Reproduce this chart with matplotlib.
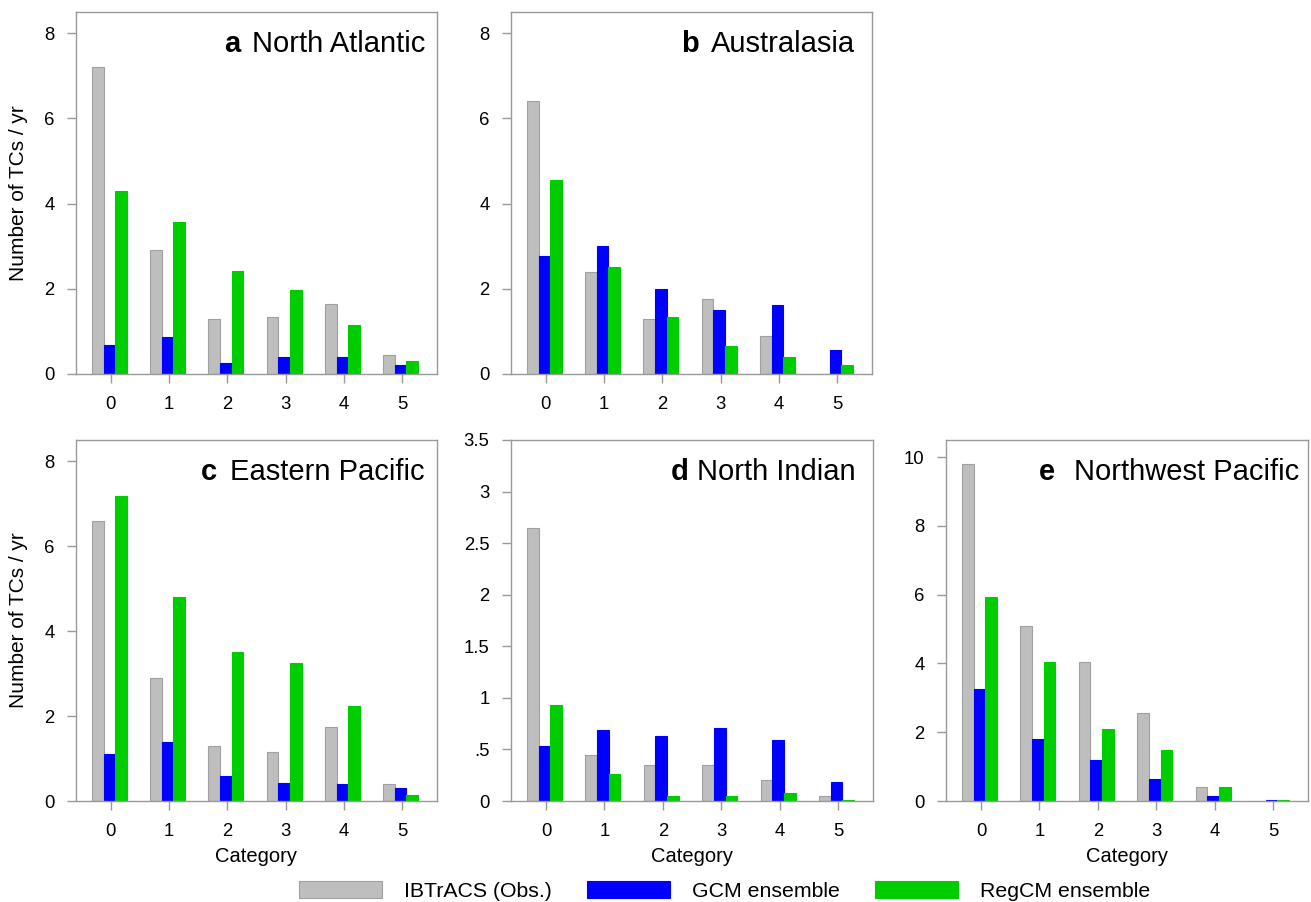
import numpy as np
import matplotlib
matplotlib.use("Agg")
import matplotlib.pyplot as plt
from matplotlib.ticker import FuncFormatter

plt.rcParams['font.family'] = ['Liberation Sans', 'DejaVu Sans']

# data (number of TCs per year by category)
categories = [0, 1, 2, 3, 4, 5]
series_names = ["IBTrACS (Obs.)", "GCM ensemble", "RegCM ensemble"]

region_letters = ["a", "b", "c", "d", "e"]
region_names = ["North Atlantic", "Australasia", "Eastern Pacific", "North Indian", "Northwest Pacific"]

obs_na = [7.2, 2.9, 1.3, 1.35, 1.65, 0.45]
gcm_na = [0.67, 0.87, 0.26, 0.41, 0.41, 0.2]
reg_na = [4.3, 3.57, 2.43, 1.98, 1.15, 0.31]

obs_au = [6.4, 2.4, 1.3, 1.75, 0.9, 0.0]
gcm_au = [2.78, 3.01, 2.0, 1.51, 1.62, 0.56]
reg_au = [4.55, 2.51, 1.33, 0.66, 0.39, 0.22]

obs_ep = [6.6, 2.9, 1.3, 1.15, 1.75, 0.39]
gcm_ep = [1.11, 1.4, 0.59, 0.42, 0.39, 0.31]
reg_ep = [7.17, 4.8, 3.51, 3.26, 2.24, 0.14]

obs_ni = [2.65, 0.45, 0.35, 0.35, 0.2, 0.05]
gcm_ni = [0.53, 0.69, 0.63, 0.71, 0.59, 0.18]
reg_ni = [0.93, 0.26, 0.045, 0.045, 0.08, 0.013]

obs_wp = [9.8, 5.1, 4.05, 2.55, 0.4, 0.0]
gcm_wp = [3.25, 1.79, 1.2, 0.65, 0.15, 0.02]
reg_wp = [5.93, 4.05, 2.09, 1.49, 0.4, 0.02]

region_data = [(obs_na, gcm_na, reg_na), (obs_au, gcm_au, reg_au), (obs_ep, gcm_ep, reg_ep),
               (obs_ni, gcm_ni, reg_ni), (obs_wp, gcm_wp, reg_wp)]

ymax = [8.5, 8.5, 8.5, 3.5, 10.5]
yticks = [np.arange(0, 9, 2), np.arange(0, 9, 2), np.arange(0, 9, 2),
          np.arange(0, 3.6, 0.5), np.arange(0, 11, 2)]

fills = ["#bebebe", "#0000ff", "#00cd00"]
edges = ["#a0a0a0", "#0000ff", "#00cd00"]
axis_col = "#999999"

W, H = 1311, 902
fig = plt.figure(figsize=(W / 100, H / 100), dpi=100)

# axes boxes in pixels: left, top, right, bottom
boxes = [(76, 12, 437, 374), (511, 12, 872, 374),
         (76, 440, 437, 801), (511, 440, 873, 801), (946, 440, 1308, 801)]
# right edge of the region name, and gap before the bold letter (pixels)
title_right = [425, 855, 425, 856, 1299]
title_gap = [11, 12, 13, 9, 19]

offsets = [-0.226, -0.026, 0.174]
bw = 0.2
x = np.array(categories)


def fmt_half(v, pos):
    if v == 0:
        return "0"
    s = ("%g" % v)
    if s.startswith("0."):
        s = s[1:]
    return s


handles = None
for i in range(5):
    l, t, r, b = boxes[i]
    ax = fig.add_axes([l / W, 1 - b / H, (r - l) / W, (b - t) / H])
    bars = []
    for k in range(3):
        bc = ax.bar(x + offsets[k], region_data[i][k], width=bw, color=fills[k],
                    edgecolor=edges[k], linewidth=0.8, label=series_names[k])
        bars.append(bc)
    handles = bars
    ax.set_xlim(-0.6, 5.6)
    ax.set_ylim(0, ymax[i])
    ax.set_xticks(categories)
    ax.set_yticks(yticks[i])
    if i == 3:
        ax.yaxis.set_major_formatter(FuncFormatter(fmt_half))
    else:
        ax.yaxis.set_major_formatter(FuncFormatter(lambda v, p: "%g" % v))
    for sp in ax.spines.values():
        sp.set_color(axis_col)
        sp.set_linewidth(1.0)
    ax.tick_params(length=6.5, width=1.0, color=axis_col, labelsize=13.3, pad=9)

    ax_w = r - l
    ax_h = b - t
    name = ax.text(1 - (r - title_right[i]) / ax_w, 1 - 40 / ax_h, region_names[i],
                   transform=ax.transAxes, ha="right", va="baseline", fontsize=21)
    ax.annotate(region_letters[i], xy=(0, 0), xycoords=name,
                xytext=(-title_gap[i], 0), textcoords="offset pixels",
                ha="right", va="bottom", fontsize=21, fontweight="bold")

    if i in (0, 2):
        ax.set_ylabel("Number of TCs / yr", fontsize=15)
        ax.yaxis.label.set_va("center")
        ax.yaxis.set_label_coords(-(l - 19) / ax_w, 0.5)
    if i >= 2:
        ax.set_xlabel("Category", fontsize=14.5)
        ax.xaxis.label.set_va("center")
        ax.xaxis.set_label_coords(0.5, -56 / ax_h)

fig.legend(handles, series_names, loc="center", bbox_to_anchor=(725 / W, 1 - 891 / H),
           ncol=3, frameon=False, fontsize=15.3, handlelength=3.9, handleheight=0.8,
           handletextpad=1.04, columnspacing=1.65)

fig.savefig("out.png", dpi=100)
